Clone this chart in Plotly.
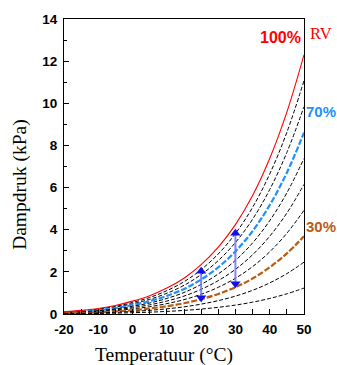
import plotly.graph_objects as go

# Saturation vapour pressure (kPa)
temps = [-20, -15, -10, -5, 0, 5, 10, 15, 20, 25, 30, 35, 40, 45, 50]
sat_kpa = [0.10, 0.17, 0.26, 0.40, 0.61, 0.87, 1.23, 1.70, 2.34, 3.17, 4.24, 5.62, 7.38, 9.58, 12.3]

# relative humidity levels drawn (fractions)
rh_levels = [0.9, 0.8, 0.7, 0.6, 0.5, 0.4, 0.3, 0.2, 0.1]

# arrows: temperature, bottom tip, top tip (kPa)
arrow_t = [20, 30]
arrow_lo = [0.57, 1.23]
arrow_hi = [2.23, 4.03]

fig = go.Figure()

for rh in rh_levels:
    ys = [rh * v for v in sat_kpa]
    if abs(rh - 0.7) < 1e-9:
        line = dict(color="#1E90FF", width=2.2, dash="6px,2px", shape="spline")
    elif abs(rh - 0.3) < 1e-9:
        line = dict(color="#B85C14", width=2.2, dash="6px,2px", shape="spline")
    else:
        line = dict(color="black", width=1, dash="4px,2px", shape="spline")
    fig.add_trace(go.Scatter(x=temps, y=ys, mode="lines", line=line,
                             showlegend=False, hoverinfo="skip"))

fig.add_trace(go.Scatter(x=temps, y=sat_kpa, mode="lines",
                         line=dict(color="#FF0000", width=1.1, shape="spline"),
                         showlegend=False, hoverinfo="skip"))

head = 0.2  # marker centre offset from tip (about 4 px)
for t, lo, hi in zip(arrow_t, arrow_lo, arrow_hi):
    fig.add_trace(go.Scatter(x=[t, t], y=[lo + head, hi - head], mode="lines",
                             line=dict(color="rgba(110,110,255,0.85)", width=2),
                             showlegend=False, hoverinfo="skip"))
    fig.add_trace(go.Scatter(x=[t, t], y=[hi - head, lo + head], mode="markers",
                             marker=dict(symbol=["triangle-up", "triangle-down"],
                                         size=9, color="#1010EE"),
                             showlegend=False, hoverinfo="skip"))

tickfont = dict(family="Liberation Sans", size=13.5, color="black", weight="bold")

fig.update_xaxes(range=[-20, 50], tickmode="array",
                 tickvals=[-20, -10, 0, 10, 20, 30, 40, 50],
                 ticktext=["-20", "-10", "0", "10", "20", "30", "40", "50"],
                 ticks="inside", ticklen=5, tickcolor="black", ticklabelstandoff=3,
                 minor=dict(ticks="inside", dtick=5, ticklen=5, tickcolor="black", showgrid=False),
                 showline=True, linecolor="black", linewidth=1, mirror=True,
                 showgrid=False, zeroline=False, tickfont=tickfont)
fig.update_yaxes(range=[0, 14], tickmode="array",
                 tickvals=[0, 2, 4, 6, 8, 10, 12, 14],
                 ticktext=["0", "2", "4", "6", "8", "10", "12", "14"],
                 ticks="inside", ticklen=5, tickcolor="black", ticklabelstandoff=3,
                 minor=dict(ticks="inside", dtick=1, ticklen=3, tickcolor="black", showgrid=False),
                 showline=True, linecolor="black", linewidth=1, mirror=True,
                 showgrid=False, zeroline=False, tickfont=tickfont)

serif = "Liberation Serif"
ann = [
    dict(text="100%", x=0.9, y=0.9356, xanchor="center", font=dict(family="Liberation Sans", size=16, color="#FF0000", weight="bold")),
    dict(text="RV", x=1.021, y=0.951, xanchor="left", font=dict(family=serif, size=16.5, color="#FF0000")),
    dict(text="70%", x=1.003, y=0.688, xanchor="left", font=dict(family="Liberation Sans", size=15, color="#1E90FF", weight="bold")),
    dict(text="30%", x=1.003, y=0.298, xanchor="left", font=dict(family="Liberation Sans", size=15, color="#B85C14", weight="bold")),
    dict(text="Dampdruk (kPa)", x=-0.183, y=0.438, xanchor="center", textangle=-90, font=dict(family=serif, size=19.5, color="black")),
    dict(text="Temperatuur (°C)", x=0.4167, y=-0.139, xanchor="center", font=dict(family=serif, size=19.5, color="black")),
]
for a in ann:
    fig.add_annotation(xref="paper", yref="paper", showarrow=False,
                       yanchor="middle", borderpad=0, **a)

# plot area at x 64-304, y 19-314 of the 337x365 window
fig.update_layout(width=337, height=365, margin=dict(l=64, r=33, t=19, b=51),
                  plot_bgcolor="white", paper_bgcolor="white")

# remove the default page margin so the figure fills the window exactly
fig.write_html("out.html", config={"displayModeBar": False},
               post_script="document.body.style.margin='0';document.body.style.overflow='hidden';")
